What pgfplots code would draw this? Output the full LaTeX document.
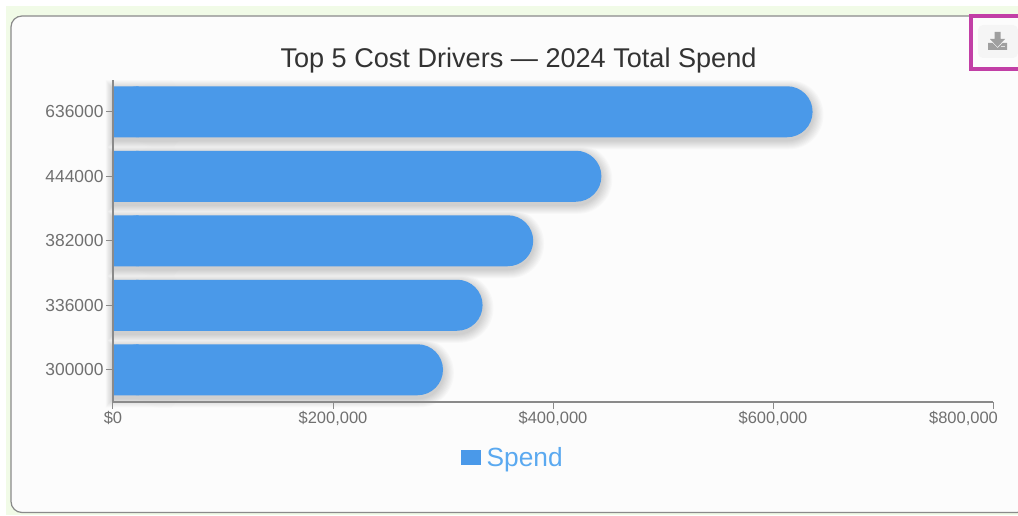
\documentclass[border=0pt]{standalone}
\usepackage{pgfplots}
\pgfplotsset{compat=1.18}
\usepackage{pgfplotstable}
\usepackage{fontspec}
\setmainfont{Liberation Sans}

\definecolor{spendblue}{HTML}{4A99E9}
\definecolor{legendblue}{HTML}{5AA9F0}
\definecolor{pagegreen}{HTML}{F1FBE7}
\definecolor{cardedge}{HTML}{8A8A8A}
\definecolor{tickgray}{HTML}{707070}
\definecolor{titlegray}{HTML}{333333}
\definecolor{boxmagenta}{HTML}{C23FA6}

% row 0 is the bottom bar
\pgfplotstableread{
pos spend
0 300000
1 336000
2 382000
3 444000
4 636000
}\spenddata

\begin{document}
\begin{tikzpicture}
\clip (0pt,0pt) rectangle (1018pt,515pt);
% page and card, y counted up from the bottom of the image
\begin{scope}[x=1pt,y=1pt]
\fill[white] (0,0) rectangle (1018,515);
\fill[pagegreen] (6,0) rectangle (1018,509);
\draw[cardedge,line width=1.2pt,fill=white!99!black,rounded corners=11pt] (11,2.5) rectangle (1028,499);
\end{scope}

\begin{axis}[
    at={(113pt,113pt)},
    anchor=south west,
    scale only axis,
    width=880pt,
    height=322.5pt,
    xmin=0, xmax=800000,
    ymin=-0.5, ymax=4.5,
    axis x line=bottom,
    axis y line=left,
    axis line style={-,draw=cardedge,line width=1.2pt},
    axis on top,
    clip=false,
    tick align=outside,
    major tick length=7pt,
    every tick/.style={draw=cardedge,line width=1pt},
    xtick={0,200000,400000,600000},
    extra x ticks={800000},
    extra x tick style={xticklabel style={xshift=-29.5pt}},
    scaled x ticks=false,
    xticklabel={\$\pgfmathprintnumber{\tick}},
    /pgf/number format/fixed,
    /pgf/number format/1000 sep={,},
    /pgf/number format/assume math mode=true,
    ytick={0,1,2,3,4},
    yticklabels={300000,336000,382000,444000,636000},
    xticklabel style={yshift=1pt,font=\fontsize{16.5}{20}\selectfont,text=tickgray},
    yticklabel style={xshift=1pt,font=\fontsize{17.4}{20}\selectfont,text=tickgray},
    title={Top 5 Cost Drivers — 2024 Total Spend},
    title style={at={(0.4608,1)},anchor=center,yshift=13pt,
        font=\fontsize{27.1}{32}\selectfont,text=titlegray},
    legend style={at={(0.4542,-0.173)},anchor=center,draw=none,fill=none,
        /tikz/column 1/.style={column sep=4pt},
        font=\fontsize{26.3}{30}\selectfont,text=legendblue},
    legend image code/.code={\fill[spendblue,sharp corners] (0pt,-7.5pt) rectangle (20pt,8pt);},
]
% soft shadow: opaque grey copies of the bars, palest and widest first
\pgfplotsinvokeforeach{1,3,5,7,9,11,13,15,17,19}{
    \addplot[forget plot,xbar,draw=none,fill=black!#1,bar width=51pt+(21-#1)*1pt,
        rounded corners=25.5pt+(21-#1)*0.5pt,xshift=(21-#1)*0.6pt,yshift=-3pt]
        table[x=spend,y=pos] {\spenddata};
    \addplot[forget plot,xbar,draw=none,fill=black!#1,bar width=51pt+(21-#1)*1pt,
        xshift=-(21-#1)*0.4pt,yshift=-3pt]
        coordinates {(60000,0) (60000,1) (60000,2) (60000,3) (60000,4)};
}
\addplot[xbar,draw=none,fill=spendblue,bar width=51pt,rounded corners=25.5pt]
    table[x=spend,y=pos] {\spenddata};
\addlegendentry{Spend}
% square off the left end of the bars
\addplot[forget plot,xbar,draw=none,fill=spendblue,bar width=51pt]
    coordinates {(23200,0) (23200,1) (23200,2) (23200,3) (23200,4)};
\end{axis}

% download button and its highlight box
\begin{scope}[x=1pt,y=1pt]
\fill[black!4,rounded corners=5pt] (978,457) rectangle (1018,490);
\fill[gray!75] (994.5,483) -- (1000.5,483) -- (1000.5,476) -- (1005,476) -- (997.5,468) -- (990,476) -- (994.5,476) -- cycle;
\fill[gray!75] (988,465) -- (988,472) -- (992.5,472) -- (997.5,467) -- (1002.5,472) -- (1007,472) -- (1007,465) -- cycle;
\fill[black!12] (1001,467.5) rectangle (1005,469);
\draw[boxmagenta,line width=4pt] (971,445.5) rectangle (1030,499);
\end{scope}
\end{tikzpicture}
\end{document}
